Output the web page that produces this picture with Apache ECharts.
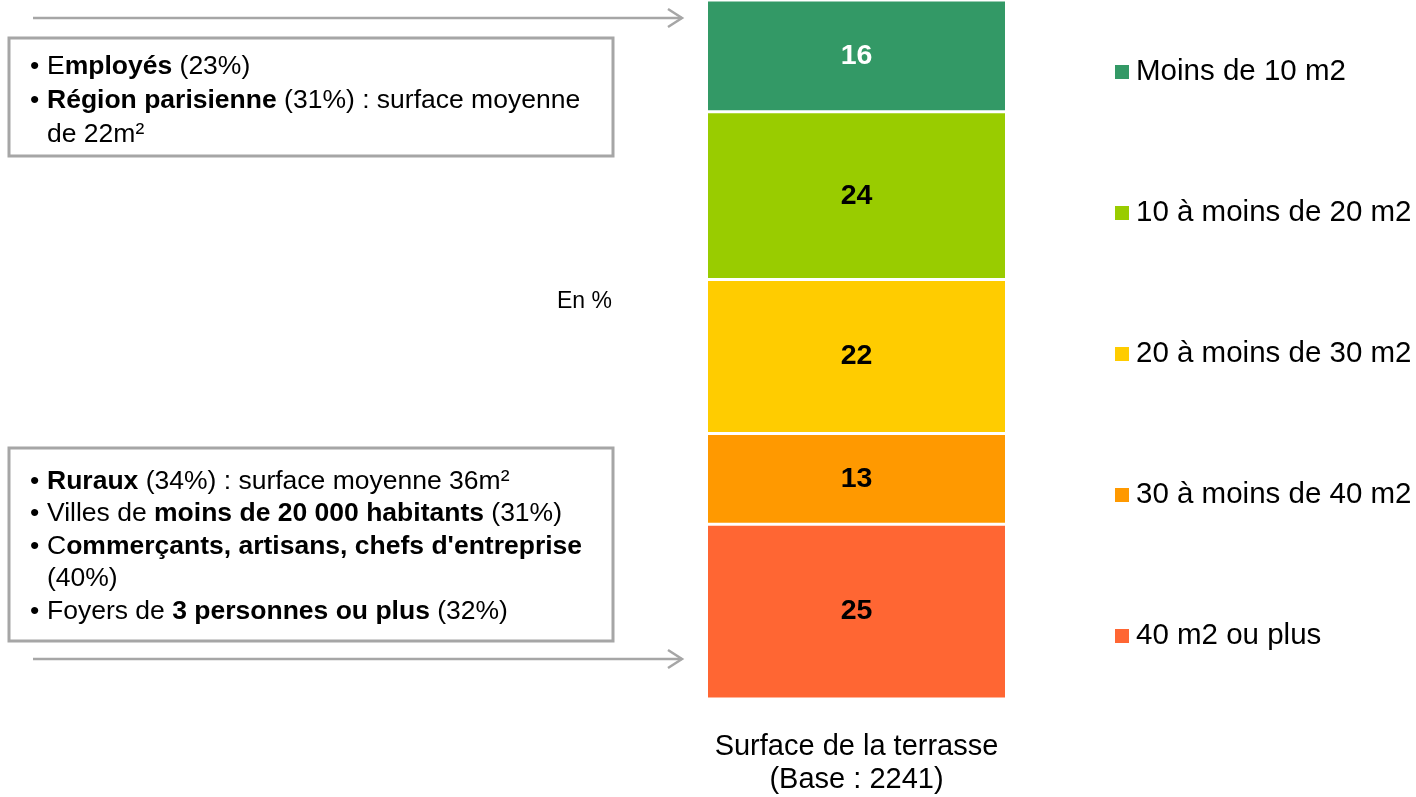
<!DOCTYPE html>
<html>
<head>
<meta charset="utf-8">
<script src="https://cdn.jsdelivr.net/npm/echarts@6/dist/echarts.min.js"></script>
<style>
  html, body { margin: 0; padding: 0; background: #fff; }
  #main { width: 1416px; height: 797px; }
</style>
</head>
<body>
<div id="main"></div>
<script>
// données
const categories = ['Surface de la terrasse\n(Base : 2241)'];
const seriesNames = ['40 m2 ou plus', '30 à moins de 40 m2', '20 à moins de 30 m2', '10 à moins de 20 m2', 'Moins de 10 m2'];
const seriesValues = [25, 13, 22, 24, 16];
const legendOrder = ['Moins de 10 m2', '10 à moins de 20 m2', '20 à moins de 30 m2', '30 à moins de 40 m2', '40 m2 ou plus'];

const topBoxLines = [
  'E{b|mployés} (23%)',
  '{b|Région parisienne} (31%) : surface moyenne',
  'de 22m²'
];
const topBoxBullets = [true, true, false];
const bottomBoxLines = [
  '{b|Ruraux} (34%) : surface moyenne 36m²',
  'Villes de {b|moins de 20 000 habitants} (31%)',
  'C{b|ommerçants, artisans, chefs d\'entreprise}',
  '(40%)',
  'Foyers de {b|3 personnes ou plus} (32%)'
];
const bottomBoxBullets = [true, true, true, false, true];

const colors = ['#FF6633', '#FF9900', '#FFCC00', '#99CC00', '#339966'];
const labelColors = ['#000', '#000', '#000', '#000', '#fff'];
const FONT = '"Liberation Sans", Arial, sans-serif';
const GREY = '#A6A6A6';
const BOX_FS = 26.5;

const chart = echarts.init(document.getElementById('main'));

function boxText(lines, bullets, x, y, lh) {
  const rich = { b: { fontWeight: 'bold', fontSize: BOX_FS, fontFamily: FONT, lineHeight: lh, fill: '#000' } };
  return [
    {
      type: 'text', left: x, top: y, silent: true,
      style: {
        text: bullets.map(b => b ? '•' : ' ').join('\n'),
        fontSize: BOX_FS, fontFamily: FONT, lineHeight: lh, fill: '#000'
      }
    },
    {
      type: 'text', left: x + 17, top: y, silent: true,
      style: {
        text: lines.join('\n'),
        rich: rich,
        fontSize: BOX_FS, fontFamily: FONT, lineHeight: lh, fill: '#000'
      }
    }
  ];
}

function arrow(y) {
  return [
    { type: 'line', silent: true, shape: { x1: 33, y1: y, x2: 682, y2: y }, style: { stroke: GREY, lineWidth: 2.5 } },
    { type: 'polyline', silent: true, shape: { points: [[668, y - 9], [682, y], [668, y + 9]] }, style: { stroke: GREY, lineWidth: 2.5, fill: null } }
  ];
}

const option = {
  animation: false,
  backgroundColor: '#fff',
  textStyle: { fontFamily: FONT },
  grid: { left: 706.5, right: 409.5, top: -5, bottom: 98, containLabel: false },
  legend: {
    data: legendOrder,
    orient: 'vertical',
    left: 1110,
    top: 52,
    itemWidth: 14,
    itemHeight: 14,
    itemGap: 111,
    icon: 'rect',
    itemStyle: { borderWidth: 0, borderColor: 'transparent' },
    textStyle: { fontSize: 29.5, fontFamily: FONT, color: '#000', lineHeight: 30, padding: [0, 0, 0, 2] }
  },
  xAxis: {
    type: 'category',
    data: categories,
    axisLine: { show: false },
    axisTick: { show: false },
    axisLabel: { fontSize: 29, lineHeight: 33, margin: 31, color: '#000', fontFamily: FONT }
  },
  yAxis: { type: 'value', min: 0, max: 100, show: false },
  series: seriesNames.map((name, i) => ({
    name: name,
    type: 'bar',
    stack: 'total',
    barWidth: '100%',
    clip: false,
    data: [seriesValues[i]],
    itemStyle: { color: colors[i], borderColor: '#fff', borderWidth: 1.5 },
    label: {
      show: true,
      position: 'inside',
      fontSize: 28.5,
      fontWeight: 'bold',
      fontFamily: FONT,
      color: labelColors[i]
    }
  })),
  graphic: [
    ...arrow(18),
    ...arrow(659),
    { type: 'rect', silent: true, shape: { x: 9, y: 38, width: 604, height: 118 }, style: { stroke: GREY, lineWidth: 3, fill: null } },
    { type: 'rect', silent: true, shape: { x: 9, y: 448, width: 604, height: 193 }, style: { stroke: GREY, lineWidth: 3, fill: null } },
    ...boxText(topBoxLines, topBoxBullets, 30, 50, 34),
    ...boxText(bottomBoxLines, bottomBoxBullets, 30, 465, 32.5),
    { type: 'text', left: 557, top: 290, silent: true, style: { text: 'En %', fontSize: 23, fontFamily: FONT, fill: '#000' } }
  ]
};

chart.setOption(option);
</script>
</body>
</html>
